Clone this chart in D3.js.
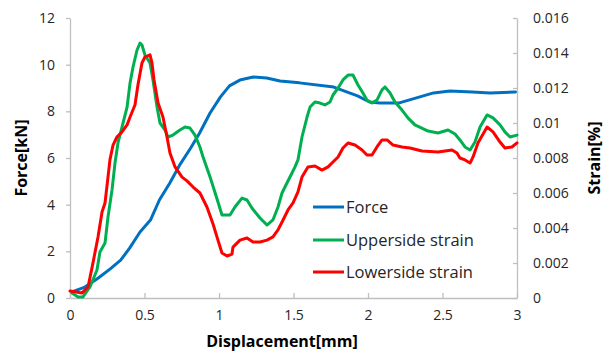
<!DOCTYPE html>
<html>
<head>
<meta charset="utf-8">
<script src="https://cdn.jsdelivr.net/npm/d3@7/dist/d3.min.js"></script>
<style>
  html, body { margin: 0; padding: 0; background: #fff; }
  svg { display: block; font-family: "Open Sans", Lato, sans-serif; }
</style>
</head>
<body>
<svg id="chart" width="604" height="353"></svg>
<script>
// ---- Data ----
const xTicks = [0, 0.5, 1, 1.5, 2, 2.5, 3];
const forceTicks = [0, 2, 4, 6, 8, 10, 12];
const strainTicks = [0, 0.002, 0.004, 0.006, 0.008, 0.01, 0.012, 0.014, 0.016];
const strainTickLabels = ["0", "0.002", "0.004", "0.006", "0.008", "0.01", "0.012", "0.014", "0.016"];
const seriesNames = ["Force", "Upperside strain", "Lowerside strain"];

// Force [kN] vs displacement [mm]
const forceDisp = [0.013,0.10,0.19,0.27,0.34,0.40,0.47,0.54,0.60,0.67,0.74,0.81,0.87,0.94,1.01,1.07,1.14,1.23,1.32,1.41,1.54,1.77,1.93,2.01,2.08,2.21,2.44,2.55,2.70,2.82,2.99];
const forceVal  = [0.26,0.47,0.86,1.25,1.62,2.14,2.83,3.34,4.2,4.93,5.74,6.43,7.07,7.93,8.62,9.09,9.34,9.47,9.43,9.30,9.22,9.04,8.66,8.40,8.36,8.36,8.79,8.87,8.83,8.79,8.83];

// Upperside strain [%]
const upperDisp = [0.013,0.054,0.087,0.134,0.181,0.201,0.235,0.255,0.282,0.302,0.322,0.349,0.383,0.403,0.423,0.450,0.470,0.483,0.503,0.537,0.557,0.584,0.604,0.638,0.658,0.691,0.738,0.772,0.805,0.839,0.872,0.893,0.940,0.987,1.020,1.074,1.107,1.154,1.188,1.221,1.275,1.322,1.362,1.396,1.423,1.456,1.490,1.510,1.530,1.557,1.591,1.611,1.644,1.678,1.711,1.745,1.765,1.799,1.832,1.866,1.899,1.933,1.966,1.993,2.027,2.060,2.094,2.114,2.148,2.181,2.228,2.268,2.315,2.403,2.470,2.537,2.584,2.617,2.651,2.685,2.718,2.752,2.799,2.839,2.886,2.919,2.953,3.0];
const upperVal  = [0.00029,0.00006,0.00006,0.00063,0.0016,0.00263,0.00314,0.00463,0.00617,0.00771,0.00886,0.00977,0.01091,0.01229,0.0132,0.01417,0.01457,0.01446,0.01389,0.01343,0.01246,0.01091,0.0100,0.0096,0.0092,0.00931,0.0096,0.00977,0.00971,0.00931,0.00863,0.00806,0.00691,0.00566,0.00474,0.00474,0.0052,0.00571,0.0056,0.00514,0.00457,0.00417,0.00446,0.0052,0.006,0.00657,0.00714,0.00749,0.00789,0.0092,0.01034,0.01091,0.0112,0.01114,0.01103,0.0112,0.0116,0.012,0.01246,0.01274,0.01274,0.01217,0.01171,0.01131,0.01114,0.01131,0.01189,0.01206,0.01171,0.0112,0.01074,0.01029,0.00989,0.00954,0.00943,0.0096,0.00937,0.00903,0.00863,0.00846,0.00891,0.00977,0.01046,0.01029,0.00989,0.00949,0.0092,0.00931];

// Lowerside strain [%]
const lowerDisp = [0,0.081,0.121,0.154,0.188,0.215,0.235,0.255,0.268,0.289,0.315,0.349,0.383,0.403,0.436,0.456,0.483,0.503,0.537,0.550,0.564,0.591,0.624,0.651,0.671,0.705,0.752,0.785,0.826,0.872,0.919,0.960,0.993,1.020,1.054,1.087,1.094,1.141,1.188,1.228,1.275,1.322,1.362,1.396,1.430,1.463,1.497,1.530,1.557,1.597,1.644,1.691,1.732,1.765,1.799,1.832,1.866,1.913,1.960,1.993,2.027,2.060,2.094,2.128,2.168,2.228,2.282,2.362,2.470,2.564,2.597,2.617,2.651,2.685,2.705,2.738,2.799,2.839,2.886,2.919,2.966,3.0];
const lowerVal  = [0.0004,0.00029,0.00063,0.002,0.00349,0.00491,0.00543,0.00691,0.00789,0.00874,0.0092,0.00949,0.00989,0.01034,0.01103,0.01217,0.01343,0.01377,0.01389,0.01343,0.01246,0.01114,0.01034,0.0092,0.00829,0.00749,0.00691,0.00669,0.00634,0.006,0.0052,0.00423,0.00331,0.00257,0.0024,0.00251,0.00291,0.00331,0.00343,0.0032,0.0032,0.00331,0.00349,0.00389,0.00446,0.00503,0.00543,0.00606,0.00691,0.00749,0.00754,0.00731,0.00749,0.00777,0.00806,0.00857,0.00886,0.00874,0.00846,0.00817,0.00817,0.00863,0.00903,0.00903,0.00874,0.00863,0.00857,0.0084,0.00834,0.00846,0.00829,0.008,0.00789,0.00771,0.00806,0.00886,0.00977,0.00949,0.00891,0.00857,0.00863,0.00886];

const colors = { force: "#0070C0", upper: "#00B050", lower: "#FF0000" };
const axisColor = "#BFBFBF";
const textColor = "#000";

// ---- Layout ----
const plot = { left: 70, right: 517, top: 18, bottom: 298 };
const svg = d3.select("#chart");

const x = d3.scaleLinear().domain([0, 3]).range([plot.left, plot.right]);
const yF = d3.scaleLinear().domain([0, 12]).range([plot.bottom, plot.top]);
const yS = d3.scaleLinear().domain([0, 0.016]).range([plot.bottom, plot.top]);

// Axes
const xAxis = d3.axisBottom(x).tickValues(xTicks).tickSizeInner(-5).tickSizeOuter(0).tickPadding(12)
  .tickFormat(d => d3.format("")(d));
const gx = svg.append("g").attr("transform", `translate(0,${plot.bottom})`).call(xAxis);

const yAxisL = d3.axisLeft(yF).tickValues(forceTicks).tickSizeInner(4).tickSizeOuter(0).tickPadding(11);
const gyl = svg.append("g").attr("transform", `translate(${plot.left},0)`).call(yAxisL);

const yAxisR = d3.axisRight(yS).tickValues(strainTicks).tickSizeInner(-4).tickSizeOuter(0).tickPadding(16)
  .tickFormat((d, i) => strainTickLabels[i]);
const gyr = svg.append("g").attr("transform", `translate(${plot.right},0)`).call(yAxisR);

[gx, gyl, gyr].forEach(g => {
  g.select(".domain").attr("stroke", axisColor).attr("stroke-width", 1.3);
  g.selectAll(".tick line").attr("stroke", axisColor).attr("stroke-width", 1.3);
  g.selectAll(".tick text").attr("fill", "#262626").style("font-size", "14px").style("font-family", "'Open Sans', sans-serif");
});

// Lines
const mkPts = (xs, ys) => xs.map((d, i) => [d, ys[i]]);
const lineF = d3.line().x(d => x(d[0])).y(d => yF(d[1]));
const lineS = d3.line().x(d => x(d[0])).y(d => yS(d[1]));

const lines = svg.append("g").attr("fill", "none").attr("stroke-width", 3).attr("stroke-linejoin", "round").attr("stroke-linecap", "round");
lines.append("path").attr("d", lineF(mkPts(forceDisp, forceVal))).attr("stroke", colors.force);
lines.append("path").attr("d", lineS(mkPts(upperDisp, upperVal))).attr("stroke", colors.upper);
lines.append("path").attr("d", lineS(mkPts(lowerDisp, lowerVal))).attr("stroke", colors.lower);

// Axis titles
svg.append("text").attr("x", 282).attr("y", 347).attr("text-anchor", "middle")
  .style("font-weight", "bold").style("font-size", "16px").attr("fill", textColor).text("Displacement[mm]");
svg.append("text").attr("transform", "translate(27,158) rotate(-90)").attr("text-anchor", "middle")
  .style("font-weight", "bold").style("font-size", "16px").attr("fill", textColor).text("Force[kN]");
svg.append("text").attr("transform", "translate(600,158) rotate(-90)").attr("text-anchor", "middle")
  .style("font-weight", "bold").style("font-size", "16px").attr("fill", textColor).text("Strain[%]");

// Legend
const legendColors = [colors.force, colors.upper, colors.lower];
const legendY = [207, 240, 272];
const lg = svg.append("g");
seriesNames.forEach((name, i) => {
  lg.append("line").attr("x1", 313).attr("x2", 344).attr("y1", legendY[i]).attr("y2", legendY[i])
    .attr("stroke", legendColors[i]).attr("stroke-width", 3);
  lg.append("text").attr("x", 346).attr("y", legendY[i] + 6).style("font-size", "16.5px")
    .attr("fill", "#262626").text(name);
});
</script>
</body>
</html>
